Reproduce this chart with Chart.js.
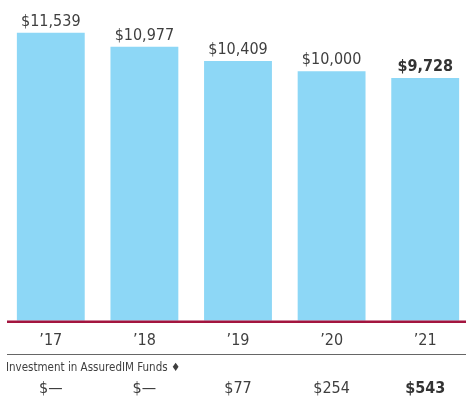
<!DOCTYPE html>
<html lang="en">
<head>
<meta charset="UTF-8">
<title>AssuredIM</title>
<script src="https://cdn.jsdelivr.net/npm/chart.js"></script>
<style>
  html, body { margin: 0; padding: 0; background: #fff; }
  #wrap { width: 472px; height: 400px; position: relative; }
</style>
</head>
<body>
<div id="wrap"><canvas id="chart"></canvas></div>
<script>
const years = ['\u201917', '\u201918', '\u201919', '\u201920', '\u201921'];
const totals = [11539, 10977, 10409, 10000, 9728];
const totalLabels = ['$11,539', '$10,977', '$10,409', '$10,000', '$9,728'];
const investLabels = ['$\u2014', '$\u2014', '$77', '$254', '$543'];
const rowTitle = 'Investment in AssuredIM Funds \u2666';

const FONT = '"DejaVu Sans Condensed", "Liberation Sans Narrow", sans-serif';
const TEXT = '#3f3f3f';

const extras = {
  id: 'extras',
  afterDraw(chart) {
    const ctx = chart.ctx;
    const x = chart.scales.x;
    const area = chart.chartArea;
    const meta = chart.getDatasetMeta(0);
    ctx.save();
    // value labels over bars
    ctx.textAlign = 'center';
    ctx.textBaseline = 'bottom';
    meta.data.forEach((bar, i) => {
      const last = i === totals.length - 1;
      ctx.font = (last ? 'bold ' : '') + '16px ' + FONT;
      ctx.fillStyle = last ? '#333' : TEXT;
      ctx.fillText(totalLabels[i], bar.x, bar.y - 3);
    });
    // red baseline
    ctx.strokeStyle = '#a3153f';
    ctx.lineWidth = 2.5;
    ctx.beginPath();
    ctx.moveTo(7, area.bottom + 1);
    ctx.lineTo(466, area.bottom + 1);
    ctx.stroke();
    // gray divider
    ctx.strokeStyle = '#666';
    ctx.lineWidth = 1;
    ctx.beginPath();
    ctx.moveTo(7, 354.5);
    ctx.lineTo(466, 354.5);
    ctx.stroke();
    // row title
    ctx.textAlign = 'left';
    ctx.textBaseline = 'middle';
    ctx.font = '11.5px ' + FONT;
    ctx.fillStyle = TEXT;
    ctx.fillText(rowTitle, 6, 368);
    // investment values
    ctx.textAlign = 'center';
    investLabels.forEach((t, i) => {
      const last = i === investLabels.length - 1;
      ctx.font = (last ? 'bold ' : '') + '16px ' + FONT;
      ctx.fillStyle = last ? '#333' : TEXT;
      ctx.fillText(t, x.getPixelForValue(i), 389);
    });
    ctx.restore();
  }
};

new Chart(document.getElementById('chart'), {
  type: 'bar',
  data: {
    labels: years,
    datasets: [{
      data: totals,
      backgroundColor: '#8dd7f6',
      borderWidth: 0,
      categoryPercentage: 1,
      barPercentage: 0.725
    }]
  },
  options: {
    responsive: true,
    maintainAspectRatio: false,
    animation: false,
    layout: { padding: { left: 4, right: 0, top: 0, bottom: 48 } },
    plugins: { legend: { display: false }, tooltip: { enabled: false } },
    scales: {
      y: { display: false, min: 0, max: 12850 },
      x: {
        grid: { display: false },
        border: { display: false },
        ticks: { color: TEXT, font: { family: FONT, size: 16 }, padding: 2 }
      }
    }
  },
  plugins: [extras]
});
</script>
</body>
</html>
